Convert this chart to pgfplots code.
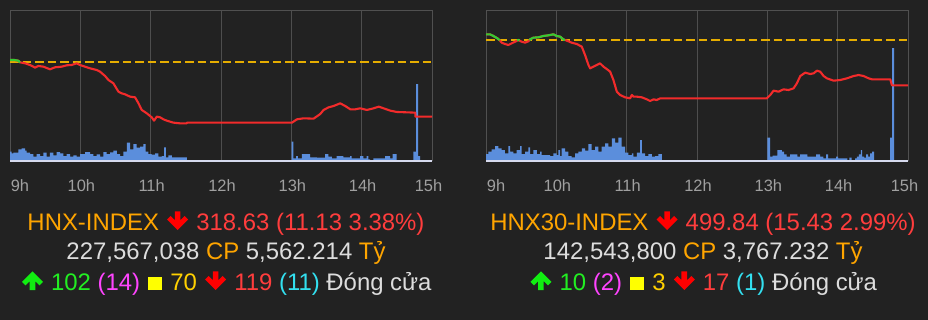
\documentclass[border=0pt]{standalone}
\usepackage{fontspec}
\setmainfont{Liberation Sans}
\usepackage{pgfplots}
\pgfplotsset{compat=1.18}
\usetikzlibrary{calc}

\definecolor{bg}{HTML}{222222}
\definecolor{frameC}{HTML}{505050}
\definecolor{gridC}{HTML}{4E4E4E}
\definecolor{barC}{HTML}{5B8EDC}
\definecolor{lineR}{HTML}{F22B2B}
\definecolor{lineG}{HTML}{33CC33}
\definecolor{refY}{HTML}{E6AD00}
\definecolor{axisB}{HTML}{D6DAEE}
\definecolor{tickC}{HTML}{A0A0A0}
\definecolor{orng}{HTML}{FFA500}
\definecolor{txtR}{HTML}{FF3D3D}
\definecolor{arrR}{HTML}{FF0000}
\definecolor{wht}{HTML}{DDDDDD}
\definecolor{grn}{HTML}{22EE22}
\definecolor{arrG}{HTML}{11EE11}
\definecolor{mag}{HTML}{FF44FF}
\definecolor{yel}{HTML}{FFFF00}
\definecolor{yel2}{HTML}{FFD000}
\definecolor{cyn}{HTML}{33E0F0}

\newcommand\F{\fontsize{24}{28}\selectfont}
\newcommand\tickfont{\fontsize{16.5}{18}\selectfont}
\newcommand\AW{\hspace*{24bp}}
\newcommand\SQ{\hspace*{1.5bp}\textcolor{yel}{\rule{14bp}{13.5bp}}\hspace*{1.5bp}}

\newcommand\LoneA{\textcolor{orng}{HNX-INDEX}\ }
\newcommand\LoneB{\textcolor{txtR}{318.63 (11.13 3.38\%)}}
\newcommand\LtwoFull{\textcolor{wht}{227,567,038} \textcolor{orng}{CP} \textcolor{wht}{5,562.214} \textcolor{orng}{Tỷ}}
\newcommand\LthrA{\AW\ \textcolor{grn}{102} \textcolor{mag}{(14)} \SQ\ \textcolor{yel2}{70}\ }
\newcommand\LthrB{\AW\ \textcolor{txtR}{119} \textcolor{cyn}{(11)} \textcolor{wht}{Đóng cửa}}

\newcommand\RoneA{\textcolor{orng}{HNX30-INDEX}\ }
\newcommand\RoneB{\textcolor{txtR}{499.84 (15.43 2.99\%)}}
\newcommand\RtwoFull{\textcolor{wht}{142,543,800} \textcolor{orng}{CP} \textcolor{wht}{3,767.232} \textcolor{orng}{Tỷ}}
\newcommand\RthrA{\AW\ \textcolor{grn}{10} \textcolor{mag}{(2)} \SQ\ \textcolor{yel2}{3}\ }
\newcommand\RthrB{\AW\ \textcolor{txtR}{17} \textcolor{cyn}{(1)} \textcolor{wht}{Đóng cửa}}

\newcommand\DArrow[2]{\begin{scope}[shift={(#1)},x=1bp,y=1bp]
\fill[#2] (12.2,0)--(1.7,10.5)--(5.2,14.0)--(9.4,9.8)--(9.4,18.6)--(15.0,18.6)--(15.0,9.8)--(19.2,14.0)--(22.7,10.5)--cycle;
\end{scope}}
\newcommand\UArrow[2]{\begin{scope}[shift={(#1)},x=1bp,y=1bp]
\fill[#2] (12.2,18.6)--(1.7,8.1)--(5.2,4.6)--(9.4,8.8)--(9.4,0)--(15.0,0)--(15.0,8.8)--(19.2,4.6)--(22.7,8.1)--cycle;
\end{scope}}

\newlength\wA \newlength\wB \newlength\wC \newlength\wD

\pgfplotsset{
  volaxis/.style={
    anchor=south west, width=422bp, height=150bp, scale only axis,
    xmin=0, xmax=360, ymin=0, ymax=150, clip=false,
    xtick={0,60,...,360},
    xticklabels={{\hspace*{18bp}9h},10h,11h,12h,13h,14h,{15h\hspace*{9bp}}},
    ytick=\empty,
    xmajorgrids,
    major grid style={draw=gridC, line width=0.9bp},
    axis line style={draw=frameC, line width=0.9bp},
    tick style={draw=none},
    xticklabel style={font=\tickfont, text=tickC, anchor=base, yshift=-31.7bp, xshift=1bp},
  },
  idxaxis/.style={
    anchor=south west, width=422bp, height=150bp, scale only axis,
    xmin=0, xmax=360, hide axis,
  },
}

\begin{document}%
\settowidth\wA{\F\LoneA}%
\settowidth\wB{\F\LthrA}%
\settowidth\wC{\F\RoneA}%
\settowidth\wD{\F\RthrA}%
\begin{tikzpicture}%
\path[use as bounding box] (0,0) rectangle (928bp,-320bp);
\fill[bg] (0,0) rectangle (928bp,-320bp);

% ---------- Left panel: volume ----------
\begin{axis}[volaxis, at={(10bp,-160bp)}]
\addplot[const plot, fill=barC, draw=none] coordinates {
(0,8.3)(1.4,6.7)(2.8,7.3)(7.1,10.7)(10.0,11.7)(12.8,9.3)(14.2,7.3)(17.1,6)(19.9,3.3)(22.8,6)
(25.6,4)(28.5,7.3)(31.3,3.3)(34.1,7.3)(37.0,4.7)(39.8,8)(42.7,6.7)(45.5,4)(48.4,6)(51.2,3.3)
(54.1,4.7)(56.9,3.3)(59.8,6)(64.0,8)(68.3,6)(71.1,4)(74.0,5.7)(76.8,3.3)(79.7,8)(82.5,6)
(85.4,7.7)(88.2,9.3)(91.1,6)(93.9,4)(96.8,8.3)(99.6,17.3)(102.4,10.7)(105.3,16)(108.1,12.3)(111.0,13.3)
(113.8,16)(115.8,8.3)(118.1,6)(120.9,5.3)(123.8,6.7)(126.6,3.3)(129.5,4)(131.5,12.7)(132.9,2.7)(135.2,4.7)
(138.0,2.7)(142.3,2.7)(150.8,0)
(240.3,18.3)(241.8,1.7)(244.0,4)(245.5,1.7)(248.9,6)(256.0,2.7)(261.7,2.3)(268.8,6)(271.6,3.3)(274.5,1.7)
(278.7,4)(284.4,2.7)(290.1,4)(291.5,1.7)(298.6,4)(301.5,1.7)(304.3,4)(305.7,0.7)(307.2,0)(310.0,1.7)
(320.0,4)(324.2,1.7)(326.5,6)(329.9,0)(344.1,8.3)(346.4,76)(348.1,4)(349.8,0)(360,0)
} \closedcycle;
\draw[axisB, line width=1.8bp] ([yshift=-0.8bp]rel axis cs:0,0) -- ([yshift=-0.8bp]rel axis cs:1,0);
\end{axis}

% ---------- Left panel: index ----------
\begin{axis}[idxaxis, at={(10bp,-160bp)}, ymin=309.75, ymax=340.48]
\addplot[refY, line width=2bp, dash pattern=on 8.5bp off 4bp] coordinates {(0,329.76) (360,329.76)};
\addplot[lineR, line width=2.1bp, line join=round] coordinates {
(0,330.24)(3.5,330.24)(7.1,330.10)(8.5,329.76)(12.8,329.56)(17.1,329.21)(19.9,328.87)(21.3,328.67)(24.2,329.01)(28.5,328.87)
(34.1,328.33)(38.4,328.74)(44.1,328.87)(48.4,329.15)(52.6,329.21)(56.9,329.56)(59.8,329.21)(64.0,328.87)(68.3,328.53)(74.0,328.19)
(76.8,327.85)(81.1,326.96)(84.0,326.14)(88.2,325.46)(92.5,323.75)(95.3,323.41)(98.2,323.20)(102.4,322.73)(106.7,322.59)(109.6,321.36)
(112.4,320.00)(116.7,319.31)(120.9,318.49)(122.9,317.81)(125.2,318.63)(128.1,318.49)(130.9,318.08)(133.8,317.81)(139.4,317.40)(145.1,317.26)
(150.8,317.26)(151,317.40)(240.5,317.40)(244.7,318.08)(250.4,318.29)(259.0,318.22)(264.7,319.18)(267.5,320.00)(271.8,320.54)(276.0,320.81)
(281.7,321.36)(286.0,320.81)(290.3,320.13)(294.5,320.13)(298.8,320.34)(304.5,320.00)(310.2,320.34)(314.5,320.68)(318.7,320.34)(324.4,319.86)
(330.1,319.59)(345.8,319.45)(345.8,318.63)(360,318.63)
};
\addplot[lineG, line width=2.1bp, line join=round] coordinates {(0,330.24)(3.5,330.24)(7.1,330.10)(8.5,329.76)};
\end{axis}

% ---------- Right panel: volume ----------
\begin{axis}[volaxis, at={(486bp,-160bp)}]
\addplot[const plot, fill=barC, draw=none] coordinates {
(0,6)(2.0,8.3)(4.8,10.7)(7.7,14)(10.5,11.7)(13.4,10)(16.2,6.7)(19.1,14)(20.5,8.3)(23.3,6.7)
(26.2,10)(29.0,14)(30.4,6)(33.3,8.3)(36.1,12.7)(37.6,6)(40.4,10)(43.3,6)(46.1,8.3)(47.5,5)
(51.8,5)(54.6,4)(57.5,6.7)(60.3,5)(61.8,10)(63.2,4)(64.6,11.7)(67.4,8.3)(70.3,4)(73.1,2.7)
(76.0,6.7)(78.8,8.3)(81.7,11.7)(84.5,9.3)(87.4,16)(90.2,10)(93.1,13.3)(95.9,8.3)(98.7,13.3)(101.6,16.7)
(104.4,13.3)(107.3,21.7)(110.1,17.3)(113.0,22.3)(115.8,13.3)(118.7,7.3)(121.5,5)(124.4,6.7)(125.8,3.3)(128.6,7.3)
(131.5,20)(132.9,6.7)(135.7,4)(138.6,6)(141.4,3.3)(144.3,4)(147.1,6)(150.0,0)
(240.0,22.3)(242.3,3.3)(244.6,4.3)(248.6,10)(252.3,8.3)(254.3,5.7)(256.5,3.3)(259.4,5.7)(265.6,3.3)(267.9,5.7)
(274.2,3.3)(281.6,5.7)(285.0,3.3)(287.8,1.7)(290.1,5.7)(291.8,1.7)(298.6,3.3)(300.3,1.7)(308.3,0)(310.0,2.3)
(312.0,0)(314.8,1.7)(316.3,3.3)(318.0,5.7)(319.7,10)(320.8,3.3)(322.5,2.3)(324.2,5.7)(325.9,3.3)(327.6,6.7)
(329.4,8.3)(331.1,0)(344.7,22.3)(346.4,112)(348.1,0)(360,0)
} \closedcycle;
\draw[axisB, line width=1.8bp] ([yshift=-0.8bp]rel axis cs:0,0) -- ([yshift=-0.8bp]rel axis cs:1,0);
\end{axis}

% ---------- Right panel: index ----------
\begin{axis}[idxaxis, at={(486bp,-160bp)}, ymin=474.24, ymax=525.67]
\addplot[refY, line width=2bp, dash pattern=on 8.5bp off 4bp] coordinates {(0,515.27) (360,515.27)};
\addplot[lineR, line width=2.1bp, line join=round] coordinates {
(0,517.33)(3.4,517.33)(6.3,516.76)(9.7,515.96)(11.4,515.38)(13.4,514.47)(16.2,514.01)(19.1,513.67)(21.9,514.24)(24.8,514.81)
(27.6,515.38)(30.4,514.81)(33.3,514.47)(36.1,514.93)(37.6,515.61)(40.4,516.18)(44.7,516.30)(48.9,516.76)(53.2,516.98)(57.5,517.33)
(60.3,516.76)(63.2,516.53)(66.0,515.61)(68.9,515.16)(73.1,514.47)(77.4,514.01)(81.7,513.10)(84.5,510.24)(87.4,506.81)(88.8,505.67)
(91.6,506.24)(94.5,506.81)(97.3,507.38)(100.2,506.24)(103.0,505.44)(105.9,504.53)(108.7,501.67)(111.6,497.67)(114.4,496.53)(118.7,495.73)
(122.9,495.38)(124.4,496.53)(125.8,495.95)(128.6,495.95)(132.9,495.73)(137.2,495.04)(140.0,494.47)(142.9,495.04)(145.7,494.81)(148.6,495.38)
(151.4,495.38)(239.6,495.38)(242.5,496.53)(245.3,498.01)(249.6,497.67)(253.8,498.47)(258.1,498.24)(262.4,498.81)(265.2,500.53)(268.1,503.04)
(272.3,504.18)(276.6,503.73)(279.5,503.95)(282.3,504.87)(285.1,504.53)(288.0,503.04)(290.8,502.24)(296.5,501.44)(302.2,501.67)(307.9,502.24)
(313.6,503.04)(317.9,503.38)(322.1,503.04)(326.4,502.24)(329.3,501.90)(344.9,501.90)(346.3,499.84)(360,499.84)
};
\addplot[lineG, line width=2.1bp, line join=round] coordinates {(0,517.33)(3.4,517.33)(6.3,516.76)(9.7,515.96)(11.4,515.38)(11.6,515.27)};
\addplot[lineG, line width=2.1bp, line join=round] coordinates {(26.6,515.27)(27.6,515.38)(28.6,515.27)};
\addplot[lineG, line width=2.1bp, line join=round] coordinates {(37.1,515.27)(37.6,515.61)(40.4,516.18)(44.7,516.30)(48.9,516.76)(53.2,516.98)(57.5,517.33)(60.3,516.76)(63.2,516.53)(66.0,515.61)(67.3,515.27)};
\end{axis}

% ---------- Text: left ----------
\node[anchor=base, inner sep=0, font=\F] (L1) at (226bp,-230bp) {\LoneA\AW\ \LoneB};
\DArrow{[xshift=\wA]L1.base west}{arrR}
\node[anchor=base, inner sep=0, font=\F] (L2) at (226bp,-259.3bp) {\LtwoFull};
\node[anchor=base, inner sep=0, font=\F] (L3) at (226bp,-290bp) {\LthrA\LthrB};
\UArrow{L3.base west}{arrG}
\DArrow{[xshift=\wB]L3.base west}{arrR}

% ---------- Text: right ----------
\node[anchor=base, inner sep=0, font=\F] (R1) at (703bp,-230bp) {\RoneA\AW\ \RoneB};
\DArrow{[xshift=\wC]R1.base west}{arrR}
\node[anchor=base, inner sep=0, font=\F] (R2) at (703bp,-259.3bp) {\RtwoFull};
\node[anchor=base, inner sep=0, font=\F] (R3) at (703bp,-290bp) {\RthrA\RthrB};
\UArrow{R3.base west}{arrG}
\DArrow{[xshift=\wD]R3.base west}{arrR}
\end{tikzpicture}%
\end{document}
